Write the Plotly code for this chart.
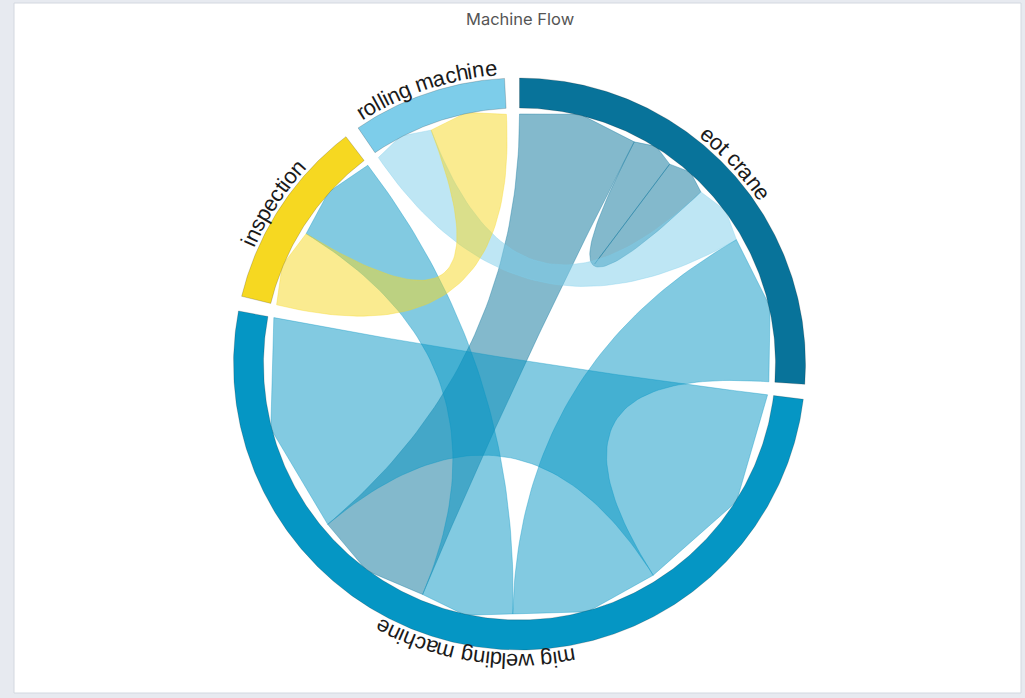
import math
import plotly.graph_objects as go

# ---------------- data ----------------
node_names = ["eot crane", "mig welding machine", "inspection", "rolling machine"]
node_colors = ["#08739a", "#0596c4", "#f6d821", "#7dcdea"]

link_source = ["eot crane", "eot crane", "rolling machine", "mig welding machine",
               "mig welding machine", "mig welding machine", "inspection"]
link_target = ["mig welding machine", "eot crane", "eot crane", "eot crane",
               "mig welding machine", "inspection", "rolling machine"]
link_value = [27, 9.5, 13.5, 33.5, 50, 21, 17.5]

# clockwise order of link ends on each node (layout)
slot_order = {
    "eot crane": [(0, "out"), (1, "out"), (1, "in"), (2, "in"), (3, "in")],
    "mig welding machine": [(4, "in"), (3, "out"), (5, "out"), (0, "in"), (4, "out")],
    "inspection": [(6, "out"), (5, "in")],
    "rolling machine": [(2, "out"), (6, "in")],
}

title_text = "Machine Flow"

# ---------------- geometry ----------------
W, H = 1025, 698
CX, CY = 519.5, 364.0
R_OUT, R_IN = 286.0, 256.0
R_END, R_MID = 250.0, 257.0   # link end: corners at R_END, middle vertex at R_MID
R_TXT = 297.0
GAP = 3.0

def pt(theta, r):
    t = math.radians(theta)
    return CX + r * math.sin(t), CY - r * math.cos(t)

def arc(a0, a1, r, n=None):
    if n is None:
        n = max(4, int(abs(a1 - a0) * 2))
    return [pt(a0 + (a1 - a0) * i / n, r) for i in range(n + 1)]

def end_poly(a0, a1):
    return [pt(a0, R_END), pt((a0 + a1) / 2, R_MID), pt(a1, R_END)]

def bez(p0, p2, n=60):
    out = []
    for i in range(1, n):
        t = i / n
        x = (1 - t) ** 2 * p0[0] + 2 * t * (1 - t) * CX + t ** 2 * p2[0]
        y = (1 - t) ** 2 * p0[1] + 2 * t * (1 - t) * CY + t ** 2 * p2[1]
        out.append((x, y))
    return out

def rgba(hexc, a):
    h = hexc.lstrip("#")
    return "rgba(%d,%d,%d,%g)" % (int(h[0:2], 16), int(h[2:4], 16), int(h[4:6], 16), a)

total = sum(link_value[i] for n in node_names for i, _ in slot_order[n])
k = (360.0 - GAP * len(node_names)) / total

node_span = {}
slot_ang = {}
a = 0.0
for n in node_names:
    s = a
    for (i, side) in slot_order[n]:
        w = link_value[i] * k
        slot_ang[(i, side)] = (a, a + w)
        a += w
    node_span[n] = (s, a)
    a += GAP

fig = go.Figure()

# ribbons
for i in range(len(link_value)):
    a0, a1 = slot_ang[(i, "out")]
    b0, b1 = slot_ang[(i, "in")]
    pts = end_poly(a0, a1)
    pts += bez(pt(a1, R_END), pt(b0, R_END))
    pts += end_poly(b0, b1)
    pts += bez(pt(b1, R_END), pt(a0, R_END))
    pts.append(pts[0])
    col = node_colors[node_names.index(link_source[i])]
    fig.add_trace(go.Scatter(
        x=[p[0] for p in pts], y=[p[1] for p in pts], mode="lines",
        fill="toself", fillcolor=rgba(col, 0.5),
        line=dict(color=rgba(col, 0.5), width=0.7),
        hoverinfo="text",
        text="%s → %s: %g" % (link_source[i], link_target[i], link_value[i]),
        showlegend=False))

# node arcs
for n, col in zip(node_names, node_colors):
    s, e = node_span[n]
    outer = arc(s, e, R_OUT)
    inner = arc(e, s, R_IN)
    pts = outer + inner + [outer[0]]
    fig.add_trace(go.Scatter(
        x=[p[0] for p in pts], y=[p[1] for p in pts], mode="lines",
        fill="toself", fillcolor=col,
        line=dict(color="rgba(0,0,0,0.22)", width=0.8),
        hoverinfo="text", text=n, showlegend=False))

# curved labels (one annotation per character)
char_w = {" ": 278, "a": 556, "b": 556, "c": 500, "d": 556, "e": 556, "f": 278,
          "g": 556, "h": 556, "i": 222, "j": 222, "k": 500, "l": 222, "m": 833,
          "n": 556, "o": 556, "p": 556, "q": 556, "r": 333, "s": 500, "t": 278,
          "u": 556, "v": 500, "w": 722, "x": 500, "y": 500, "z": 500}
FS = 22
annotations = []
for n in node_names:
    s, e = node_span[n]
    mid = (s + e) / 2
    widths = [char_w.get(c, 556) * FS / 1000.0 for c in n]
    span = math.degrees(sum(widths) / R_TXT)
    ang = mid - span / 2
    for c, w in zip(n, widths):
        da = math.degrees(w / R_TXT)
        cang = ang + da / 2
        ang += da
        if c == " ":
            continue
        x, y = pt(cang, R_TXT)
        ta = ((cang + 180) % 360) - 180
        annotations.append(dict(x=x, y=y, xref="x", yref="y", text=c, showarrow=False,
                                textangle=ta, xanchor="center", yanchor="middle",
                                font=dict(family="Liberation Sans, Arial", size=FS, color="#1a1a1a")))

annotations.append(dict(x=520, y=19, xref="x", yref="y", text=title_text, showarrow=False,
                        xanchor="center", yanchor="middle",
                        font=dict(family="Inter, Roboto, sans-serif", size=16.5, color="#555555")))

shapes = [dict(type="rect", xref="x", yref="y", x0=14, y0=3, x1=1021, y1=693,
               fillcolor="white", line=dict(color="#d3d8e0", width=1), layer="below")]

fig.update_layout(
    width=W, height=H, margin=dict(l=0, r=0, t=0, b=0),
    paper_bgcolor="#e7eaf0", plot_bgcolor="rgba(0,0,0,0)",
    xaxis=dict(range=[0, W], visible=False, fixedrange=True),
    yaxis=dict(range=[H, 0], visible=False, fixedrange=True),
    annotations=annotations, shapes=shapes, showlegend=False,
)

fig.write_html("out.html", config={"displayModeBar": False},
               post_script="document.body.style.margin='0';document.body.style.overflow='hidden';")
